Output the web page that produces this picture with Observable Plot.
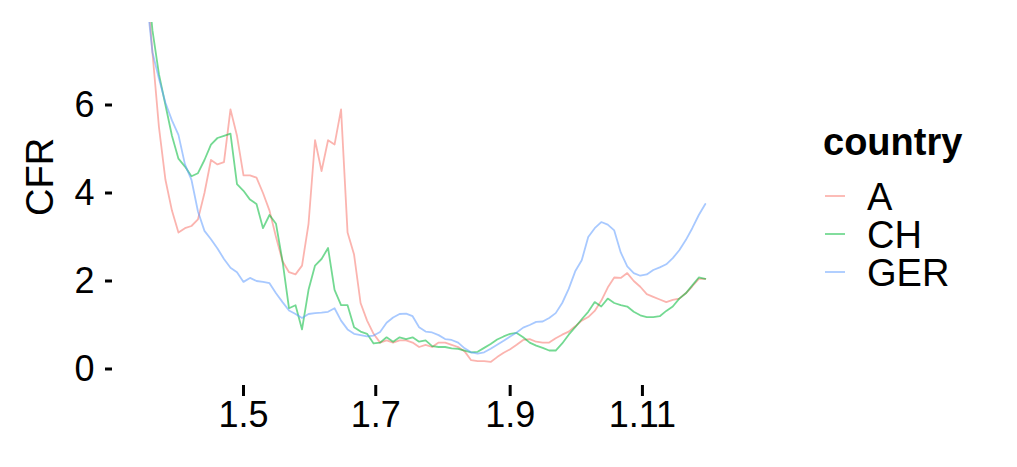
<!DOCTYPE html>
<html>
<head>
<meta charset="utf-8">
<script src="https://cdn.jsdelivr.net/npm/d3@7"></script>
<script src="https://cdn.jsdelivr.net/npm/@observablehq/plot@0.6"></script>
<style>
  body { margin: 0; background: #fff; }
  #wrap { position: relative; width: 1017px; height: 467px; overflow: hidden; background: #fff; }
  #wrap svg { position: absolute; left: 0; top: 0; }
</style>
</head>
<body>
<div id="wrap"></div>
<script>
// ---- data ----
const dates = [
  "2020-03-14","2020-03-17","2020-03-20","2020-03-23","2020-03-26","2020-03-29","2020-04-01","2020-04-04",
  "2020-04-07","2020-04-10","2020-04-13","2020-04-16","2020-04-19","2020-04-22","2020-04-25","2020-04-28",
  "2020-05-01","2020-05-04","2020-05-07","2020-05-10","2020-05-13","2020-05-16","2020-05-19","2020-05-22",
  "2020-05-25","2020-05-28","2020-05-31","2020-06-03","2020-06-06","2020-06-09","2020-06-12","2020-06-15",
  "2020-06-18","2020-06-21","2020-06-24","2020-06-27","2020-06-30","2020-07-03","2020-07-06","2020-07-09",
  "2020-07-12","2020-07-15","2020-07-18","2020-07-21","2020-07-24","2020-07-27","2020-07-30","2020-08-02",
  "2020-08-05","2020-08-08","2020-08-11","2020-08-14","2020-08-17","2020-08-20","2020-08-23","2020-08-26",
  "2020-08-29","2020-09-01","2020-09-04","2020-09-07","2020-09-10","2020-09-13","2020-09-16","2020-09-19",
  "2020-09-22","2020-09-25","2020-09-28","2020-10-01","2020-10-04","2020-10-07","2020-10-10","2020-10-13",
  "2020-10-16","2020-10-19","2020-10-22","2020-10-25","2020-10-28","2020-10-31","2020-11-03","2020-11-06",
  "2020-11-09","2020-11-12","2020-11-15","2020-11-18","2020-11-21","2020-11-24","2020-11-27","2020-11-30"
];
const cfrA = [
  10.5, 9.0, 7.2, 5.5, 4.3, 3.6, 3.1, 3.2, 3.25, 3.4, 4.0, 4.75, 4.65, 4.7, 5.9, 5.3,
  4.4, 4.4, 4.35, 4.0, 3.6, 3.0, 2.45, 2.2, 2.15, 2.35, 3.3, 5.2, 4.5, 5.2, 5.1, 5.9,
  3.1, 2.6, 1.5, 1.1, 0.8, 0.6, 0.65, 0.6, 0.65, 0.65, 0.6, 0.5, 0.55, 0.5, 0.6, 0.6,
  0.55, 0.5, 0.4, 0.2, 0.18, 0.18, 0.16, 0.27, 0.37, 0.45, 0.55, 0.66, 0.68, 0.62, 0.6, 0.6,
  0.7, 0.78, 0.85, 0.97, 1.1, 1.18, 1.32, 1.55, 1.85, 2.08, 2.07, 2.18, 2.0, 1.87, 1.7, 1.64,
  1.58, 1.52, 1.57, 1.6, 1.72, 1.88, 2.05, 2.05
];
const cfrCH = [
  11.0, 9.3, 7.7, 6.7, 6.0, 5.3, 4.78, 4.6, 4.38, 4.45, 4.75, 5.1, 5.25, 5.3, 5.35, 4.2,
  4.05, 3.85, 3.75, 3.2, 3.5, 3.3, 2.45, 1.38, 1.45, 0.9, 1.8, 2.35, 2.5, 2.75, 1.8, 1.45,
  1.45, 0.95, 0.85, 0.8, 0.58, 0.6, 0.72, 0.62, 0.72, 0.68, 0.72, 0.62, 0.65, 0.52, 0.5, 0.5,
  0.47, 0.46, 0.42, 0.38, 0.39, 0.48, 0.57, 0.67, 0.74, 0.8, 0.82, 0.72, 0.6, 0.53, 0.48, 0.42,
  0.42, 0.58, 0.78, 0.95, 1.13, 1.3, 1.52, 1.42, 1.6, 1.5, 1.45, 1.42, 1.3, 1.22, 1.18, 1.18,
  1.2, 1.32, 1.42, 1.6, 1.72, 1.9, 2.08, 2.05
];
const cfrGER = [
  10.0, 8.6, 7.2, 6.6, 6.05, 5.65, 5.32, 4.65, 4.3, 3.58, 3.14, 2.95, 2.74, 2.5, 2.3, 2.2,
  1.98, 2.07, 2.0, 1.98, 1.95, 1.72, 1.52, 1.33, 1.25, 1.16, 1.25, 1.27, 1.28, 1.3, 1.38, 1.1,
  0.9, 0.8, 0.77, 0.74, 0.76, 0.84, 1.05, 1.17, 1.25, 1.26, 1.2, 0.95, 0.85, 0.83, 0.77, 0.68,
  0.66, 0.6, 0.47, 0.38, 0.35, 0.38, 0.46, 0.55, 0.64, 0.74, 0.83, 0.94, 1.0, 1.07, 1.08, 1.16,
  1.27, 1.5, 1.82, 2.22, 2.47, 3.0, 3.2, 3.34, 3.28, 3.15, 2.65, 2.33, 2.18, 2.12, 2.15, 2.25,
  2.31, 2.38, 2.52, 2.7, 2.93, 3.2, 3.5, 3.75
];
const countries = ["A", "CH", "GER"];
const seriesValues = [cfrA, cfrCH, cfrGER];
const colors = ["#F8766D", "#00BA38", "#619CFF"];
const yTicks = [0, 2, 4, 6];
const xTickDates = ["2020-05-01", "2020-07-01", "2020-09-01", "2020-11-01"];
const xTickLabels = ["1.5", "1.7", "1.9", "1.11"];
const xDomain = ["2020-03-01T14:00Z", "2020-12-12T02:00Z"];
const yDomain = [-0.375, 7.875];

// ---- long table ----
const rows = [];
countries.forEach((c, i) => {
  dates.forEach((d, j) => rows.push({country: c, date: new Date(d), cfr: seriesValues[i][j]}));
});
const tickDates = xTickDates.map(d => new Date(d));
const labelFor = d => xTickLabels[tickDates.findIndex(t => +t === +d)];

const FONT = "'Liberation Sans', Arial, Helvetica, sans-serif";

const chart = Plot.plot({
  width: 1017,
  height: 467,
  marginLeft: 112,
  marginRight: 286,
  marginTop: 22,
  marginBottom: 82,
  style: {fontFamily: FONT, background: "transparent", color: "#000"},
  x: {type: "utc", domain: xDomain.map(d => new Date(d))},
  y: {domain: yDomain},
  color: {domain: countries, range: colors},
  marks: [
    Plot.line(rows, {
      x: "date", y: "cfr", z: "country", stroke: "country",
      strokeWidth: 1.8, strokeOpacity: 0.55, clip: true
    }),
    Plot.axisX({
      ticks: tickDates, tickFormat: labelFor, tickSize: 11, tickPadding: 5,
      strokeWidth: 3, stroke: "#000", strokeOpacity: 1, fill: "#000", fontSize: 36, label: null
    }),
    Plot.axisY({
      ticks: yTicks, tickSize: 7, tickPadding: 11,
      strokeWidth: 3, stroke: "#000", strokeOpacity: 1, fill: "#000", fontSize: 36, label: null
    }),
    Plot.text(["CFR"], {
      frameAnchor: "left", dx: -72, dy: 12, rotate: -90,
      fontSize: 38, fill: "#000", text: d => d
    })
  ]
});
document.getElementById("wrap").appendChild(chart);

// ---- legend (drawn beside the plot) ----
const legend = d3.select("#wrap").append("svg")
  .attr("width", 200).attr("height", 200)
  .style("left", "815px").style("top", "110px")
  .attr("font-family", FONT);
legend.append("text")
  .attr("x", 8).attr("y", 45)
  .attr("font-size", 38).attr("font-weight", "bold").attr("fill", "#000")
  .text("country");
countries.forEach((c, i) => {
  const cy = 86 + i * 38;
  legend.append("line")
    .attr("x1", 10).attr("x2", 30).attr("y1", cy).attr("y2", cy)
    .attr("stroke", colors[i]).attr("stroke-opacity", 0.55).attr("stroke-width", 1.8);
  legend.append("text")
    .attr("x", 52).attr("y", cy).attr("dy", "0.36em")
    .attr("font-size", 38).attr("fill", "#000")
    .text(c);
});
</script>
</body>
</html>
